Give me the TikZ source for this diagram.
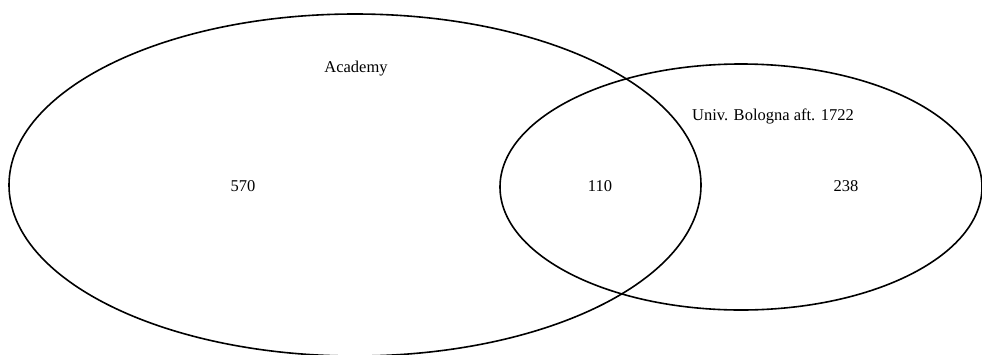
\documentclass[tikz,border=0pt]{standalone}
\usepackage{fontspec}
\setmainfont{Liberation Serif}
\usetikzlibrary{shapes.geometric}
\begin{document}
\begin{tikzpicture}[x=1pt,y=-1pt,
  setshape/.style={draw=black,line width=1.6pt,ellipse,inner sep=0pt},
  lbl/.style={font=\fontsize{16.5}{18}\selectfont,inner sep=0pt,anchor=center}]
\useasboundingbox (0,0) rectangle (982,354);
\node[setshape,minimum width=692pt,minimum height=342pt] (academy) at (355,185) {};
\node[setshape,minimum width=482pt,minimum height=246pt] (bologna) at (741,187) {};
\node[lbl] (tA) at (356,69) {Academy};
\node[lbl] (tB) at (773,116) {Univ. Bologna aft. 1722};
\node[lbl] (n1) at (243,186) {570};
\node[lbl] (n2) at (600,186) {110};
\node[lbl] (n3) at (846,186) {238};
\end{tikzpicture}
\end{document}
